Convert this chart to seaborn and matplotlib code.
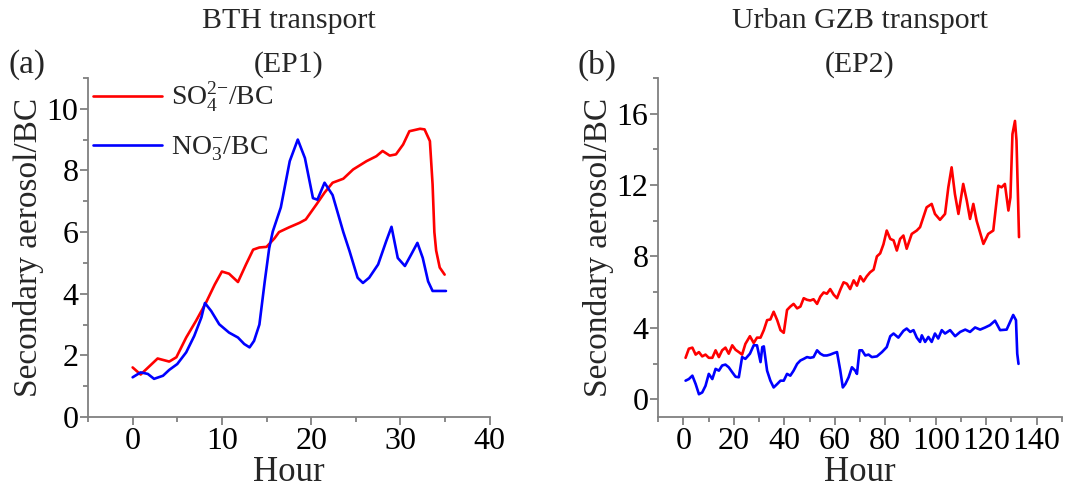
import numpy as np
import pandas as pd
import matplotlib
matplotlib.use("Agg")
import matplotlib.pyplot as plt
from matplotlib.ticker import MultipleLocator
import seaborn as sns

# ---- panel (a): BTH transport (EP1)
hour_a_so4 = [0, 0.9, 2.8, 4.1, 4.9, 6, 7.1, 8.2, 9.2, 10, 10.8, 11.8, 12.7, 13.5, 14.2, 15, 15.9,
              16.4, 17.5, 18.7, 19.4, 20.6, 21.5, 22.4, 23.6, 24.7, 26.2, 27.3, 28, 28.8, 29.5,
              30.3, 31, 32.2, 32.7, 33.3, 33.6, 33.8, 34, 34.4, 34.95]
so4_a = [1.61, 1.38, 1.9, 1.8, 1.94, 2.58, 3.12, 3.7, 4.3, 4.72, 4.65, 4.38, 4.95, 5.43, 5.5, 5.52, 5.8,
         6.0, 6.15, 6.3, 6.41, 6.9, 7.28, 7.6, 7.73, 8.03, 8.3, 8.46, 8.63, 8.48, 8.52,
         8.84, 9.27, 9.35, 9.33, 8.95, 7.55, 6.0, 5.4, 4.85, 4.62]
hour_a_no3 = [0, 0.9, 1.7, 2.4, 3.4, 4.1, 5, 6, 6.9, 7.7, 8.1, 8.8, 9.7, 10.8, 11.8, 12.5, 13.1,
              13.6, 14.2, 14.8, 15.3, 15.7, 16.6, 17.6, 18.5, 19.3, 20.2, 20.7, 21.5, 22.4, 23.6,
              24.3, 25.2, 25.8, 26.5, 27.5, 28.4, 29, 29.7, 30.5, 31.2, 31.9, 32.5, 33.1, 33.6, 35.1]
no3_a = [1.29, 1.45, 1.4, 1.24, 1.34, 1.53, 1.72, 2.1, 2.63, 3.23, 3.7, 3.44, 3.01, 2.74, 2.58, 2.37, 2.26,
         2.47, 3.0, 4.4, 5.48, 6.02, 6.8, 8.3, 9.0, 8.4, 7.1, 7.05, 7.6, 7.2, 6.0,
         5.38, 4.52, 4.35, 4.52, 4.95, 5.7, 6.17, 5.16, 4.9, 5.27, 5.65, 5.16, 4.4, 4.09, 4.09]

# ---- panel (b): Urban GZB transport (EP2)
hour_b_so4 = [0.9, 2.2, 3.6, 4.9, 6.2, 7.5, 8.8, 10.1, 11.5, 12.8, 14.1, 15.4, 16.7, 18, 19.4, 20.7,
              22, 23.3, 24.6, 26.4, 27.9, 29.2, 30.6, 31.9, 33.2, 34.5, 35.8, 37.2, 38.5, 39.8, 41.1,
              42.4, 43.7, 45.1, 46.4, 47.7, 49, 50.3, 51.6, 53, 54.3, 55.6, 56.9, 58.2, 59.6, 60.9,
              62.2, 63.5, 64.8, 66.1, 67.5, 68.8, 70.1, 71.4, 72.7, 74, 75.4, 76.7, 78, 79.3, 80.6,
              82, 83.3, 84.6, 85.9, 87.2, 88.5, 90.5, 92.5, 93.8, 96.4, 98.4, 99.7, 101.7, 103.7,
              105, 106.3, 107.6, 109, 110.9, 112.3, 113.6, 114.9, 116.2, 118.9, 120.8, 122.8, 124.8,
              126.1, 127.4, 128.8, 129.6, 130.4, 131.4, 132, 132.7, 133]
so4_b = [2.32, 2.83, 2.89, 2.5, 2.64, 2.4, 2.5, 2.32, 2.32, 2.74, 2.36, 2.74, 2.89, 2.55, 3.02, 2.77,
         2.64, 2.5, 3.1, 3.53, 3.15, 3.45, 3.45, 3.87, 4.43, 4.47, 4.9, 4.43, 3.87, 3.72, 5.0,
         5.19, 5.34, 5.09, 5.19, 5.66, 5.57, 5.53, 5.6, 5.34, 5.75, 5.98, 5.91, 6.17, 5.85, 5.66,
         6.13, 6.55, 6.47, 6.17, 6.66, 6.36, 6.89, 6.6, 6.89, 7.11, 7.26, 8.0, 8.17, 8.68, 9.45,
         8.98, 8.9, 8.33, 8.98, 9.17, 8.43, 9.26, 9.45, 9.64, 10.75, 10.94, 10.38, 10.05, 10.38,
         11.87, 12.99, 11.5, 10.38, 12.06, 11.13, 10.1, 10.94, 10.0, 8.7, 9.26, 9.45, 11.96,
         11.87, 12.06, 10.57, 11.31, 14.85, 15.59, 14.5, 10.75, 9.08]
hour_b_no3 = [0.9, 2.2, 3.6, 4.9, 6.2, 7.5, 8.8, 10.1, 11.5, 12.8, 14.1, 15.4, 16.7, 18, 19.4, 20.7,
              22, 23.3, 24.6, 26.4, 27.9, 29.2, 30.6, 31.3, 31.9, 33.2, 34.5, 35.8, 37.2, 38.5, 39.8,
              41.1, 42.4, 43.7, 45.1, 46.4, 47.7, 49, 50.3, 51.6, 53, 54.3, 55.6, 56.9, 58.2, 59.6,
              60.9, 62.2, 63.2, 64.2, 65.5, 66.8, 68.1, 68.8, 69.8, 70.8, 72.1, 73.4, 74.7, 76.7,
              78.7, 80.6, 82, 83.3, 85.2, 87.2, 88.5, 89.9, 91.2, 92.5, 93.8, 94.5, 95.8, 97.1, 98.4,
              99.7, 101, 102.4, 103.7, 105.7, 107.7, 109.7, 111.7, 113.6, 115.6, 117.6, 119.6,
              121.5, 123.5, 125.5, 128.1, 130.7, 131.8, 132.3, 132.8]
no3_b = [1.04, 1.13, 1.32, 0.85, 0.28, 0.38, 0.75, 1.42, 1.13, 1.7, 1.6, 1.89, 1.94, 1.79, 1.51, 1.26,
         1.23, 2.36, 2.26, 2.55, 3.02, 3.02, 2.08, 2.92, 2.96, 1.6, 1.04, 0.66, 0.85, 1.04, 1.04,
         1.42, 1.32, 1.6, 1.98, 2.17, 2.26, 2.36, 2.32, 2.36, 2.74, 2.55, 2.45, 2.45, 2.5, 2.58,
         2.64, 1.6, 0.66, 0.85, 1.23, 1.79, 1.6, 1.42, 2.74, 2.74, 2.45, 2.5, 2.36, 2.4,
         2.64, 2.92, 3.53, 3.68, 3.45, 3.83, 3.96, 3.77, 3.87, 3.45, 3.21, 3.58, 3.21, 3.49, 3.21,
         3.68, 3.4, 3.87, 3.68, 3.87, 3.53, 3.77, 3.9, 3.77, 4.02, 3.9, 4.02,
         4.15, 4.4, 3.87, 3.9, 4.72, 4.43, 2.55, 1.98]

sns.set_style("ticks")
plt.rcParams["font.family"] = ["Liberation Serif", "DejaVu Serif"]
plt.rcParams["mathtext.fontset"] = "custom"
plt.rcParams["mathtext.rm"] = "Liberation Serif"
plt.rcParams["mathtext.it"] = "Liberation Serif:italic"

fig = plt.figure(figsize=(10.77, 4.93), dpi=100)
ax_a = fig.add_axes([0.0817, 0.154, 0.373, 0.688])
ax_b = fig.add_axes([0.611, 0.154, 0.375, 0.688])

red, blue = "#ff0000", "#0000ff"
lab_so4 = r"SO$_4^{2\mathrm{-}}$/BC"
lab_no3 = r"NO$_3^{\mathrm{-}}$/BC"

sns.lineplot(x=hour_a_so4, y=so4_a, ax=ax_a, color=red, lw=1.9, label=lab_so4)
sns.lineplot(x=hour_a_no3, y=no3_a, ax=ax_a, color=blue, lw=1.9, label=lab_no3)
sns.lineplot(x=hour_b_so4, y=so4_b, ax=ax_b, color=red, lw=1.9, legend=False)
sns.lineplot(x=hour_b_no3, y=no3_b, ax=ax_b, color=blue, lw=1.9, legend=False)

ax_a.set_xlim(-5, 40)
ax_a.set_ylim(0, 11)
ax_a.xaxis.set_major_locator(MultipleLocator(10))
ax_a.xaxis.set_minor_locator(MultipleLocator(5))
ax_a.yaxis.set_major_locator(MultipleLocator(2))
ax_a.yaxis.set_minor_locator(MultipleLocator(1))

ax_b.set_xlim(-10, 150)
ax_b.set_ylim(-1, 18)
ax_b.xaxis.set_major_locator(MultipleLocator(20))
ax_b.xaxis.set_minor_locator(MultipleLocator(10))
ax_b.yaxis.set_major_locator(MultipleLocator(4))
ax_b.yaxis.set_minor_locator(MultipleLocator(2))

for ax, title, tag in [(ax_a, "BTH transport\n(EP1)", "(a)"),
                       (ax_b, "Urban GZB transport\n(EP2)", "(b)")]:
    sns.despine(ax=ax)
    for s in ("left", "bottom"):
        ax.spines[s].set_color("#808080")
        ax.spines[s].set_linewidth(1.3)
    ax.tick_params(which="major", direction="out", length=6, width=1.3, color="#808080",
                   labelsize=23, labelcolor="black", pad=1)
    ax.tick_params(which="minor", direction="out", length=3.5, width=1.3, color="#808080")
    ax.set_xlabel("Hour", fontsize=25, labelpad=0)
    ax.set_ylabel("Secondary aerosol/BC", fontsize=24, labelpad=2)
    ax.set_title(title, fontsize=21.5, linespacing=1.8, pad=0)
    ax.text(-0.199, 1.038, tag, transform=ax.transAxes, fontsize=24, ha="left", va="center")

ax_a.legend(loc="upper left", bbox_to_anchor=(0.005, 1.0), frameon=False, fontsize=20,
            handlelength=2.5, handletextpad=0.3, labelspacing=0.75, borderaxespad=0, borderpad=0.1)

fig.savefig("out.png", dpi=100)
